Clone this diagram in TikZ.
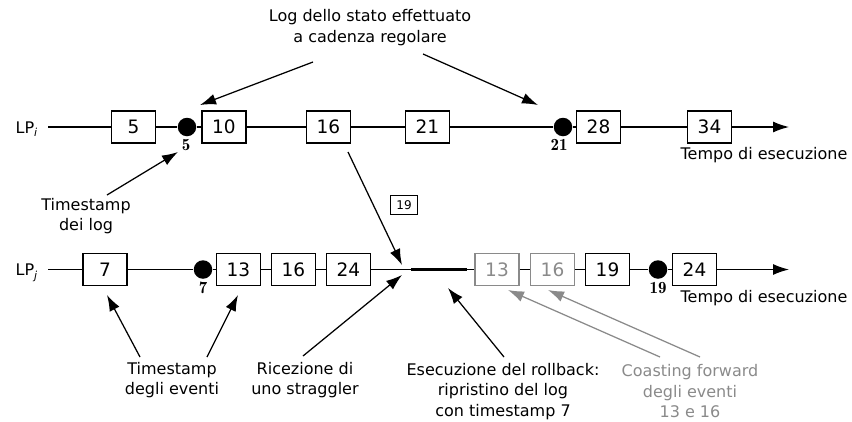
\documentclass[tikz,border=0pt]{standalone}
\usepackage[no-math]{fontspec}
\setmainfont{DejaVu Sans}
\usetikzlibrary{arrows.meta}
\definecolor{faded}{HTML}{8A8A8A}
% process name with an oblique subscript
\newcommand{\procname}[1]{LP\raisebox{-3.5pt}{\fontsize{11}{11}\selectfont\itshape #1}}
\begin{document}
\begin{tikzpicture}[x=1pt,y=-1pt,
  line width=1.25pt,
  evt/.style={draw, minimum width=44pt, minimum height=32pt, inner sep=0pt,
              font=\fontsize{18.5}{20}\selectfont},
  oldevt/.style={evt, draw=faded, text=faded},
  logdot/.style={circle, fill=black, minimum size=18.5pt, inner sep=0pt},
  ts/.style={font=\fontfamily{lmr}\bfseries\fontsize{17}{18}\selectfont, inner sep=0pt},
  note/.style={align=center, font=\fontsize{16}{20.5}\selectfont, inner sep=0pt},
  msg/.style={draw, line width=0.9pt, minimum width=27pt, minimum height=19pt,
              inner sep=0pt, font=\fontsize{12}{13}\selectfont},
  arr/.style={-{Latex[length=16pt,width=11pt]}},
  timeline/.style={-{Latex[length=16pt,width=11pt]}}
]
\useasboundingbox (0,0) rectangle (852,421);

% ---- process LP_i ----
\node[anchor=base west, inner sep=0pt, font=\fontsize{16}{20}\selectfont] (lpi) at (15,133.3) {\procname{i}};
\coordinate (si) at (48,127);
\node[evt] (i5) at (133.5,127) {5};
\node[logdot] (di5) at (187,127) {};
\node[evt] (i10) at (224,127) {10};
\node[evt] (i16) at (328.5,127) {16};
\node[evt] (i21) at (427.5,127) {21};
\node[logdot] (di21) at (563,127) {};
\node[evt] (i28) at (598.5,127) {28};
\node[evt] (i34) at (709.5,127) {34};
\coordinate (ei) at (789,127);
\draw (si) -- (i5) -- (di5) -- (i10) -- (i16) -- (i21) -- (di21) -- (i28) -- (i34);
\draw[timeline] (i34) -- (ei);
\node[ts] (ti5) at (186,145) {5};
\node[ts] (ti21) at (559,145) {21};
\node[note] (tempi) at (764,155) {Tempo di esecuzione};

% ---- process LP_j ----
\node[anchor=base west, inner sep=0pt, font=\fontsize{16}{20}\selectfont] (lpj) at (15,275.5) {\procname{j}};
\coordinate (sj) at (48,269.5);
\node[evt] (j7) at (105,269.5) {7};
\node[logdot] (dj7) at (203,269.5) {};
\node[evt] (j13) at (238.5,269.5) {13};
\node[evt] (j16) at (293.5,269.5) {16};
\node[evt] (j24) at (348.5,269.5) {24};
\coordinate (rb1) at (411,269.5);
\coordinate (rb2) at (467,269.5);
\node[oldevt] (g13) at (497,269.5) {13};
\node[oldevt] (g16) at (552.5,269.5) {16};
\node[evt] (j19) at (607.5,269.5) {19};
\node[logdot] (dj19) at (658,269.5) {};
\node[evt] (j24b) at (694.5,269.5) {24};
\coordinate (ej) at (789,269.5);
\draw (sj) -- (j7) -- (dj7) -- (j13) -- (j16) -- (j24) -- (rb1);
\draw[line width=3pt] (rb1) -- (rb2);
\draw (rb2) -- (g13) -- (g16) -- (j19) -- (dj19) -- (j24b);
\draw[timeline] (j24b) -- (ej);
\node[ts] (tj7) at (203,288) {7};
\node[ts] (tj19) at (658,288) {19};
\node[note] (tempj) at (764,298) {Tempo di esecuzione};

% ---- straggler message ----
\node[msg] (m19) at (404,205) {19};
\coordinate (mfrom) at (348,152);
\coordinate (mto) at (402,265);
\draw[arr] (mfrom) -- (mto);

% ---- annotations ----
\node[note] (nlog) at (370,27.5) {Log dello stato effettuato\\a cadenza regolare};
\coordinate (nlogA) at (313,62);  \coordinate (nlogAt) at (200,105);
\coordinate (nlogB) at (423,54);  \coordinate (nlogBt) at (538,105);
\draw[arr] (nlogA) -- (nlogAt);
\draw[arr] (nlogB) -- (nlogBt);

\node[note] (nts) at (86,216) {Timestamp\\dei log};
\coordinate (ntsA) at (107,195); \coordinate (ntsAt) at (178,152);
\draw[arr] (ntsA) -- (ntsAt);

\node[note] (nev) at (172,380) {Timestamp\\degli eventi};
\coordinate (nevA) at (140,357); \coordinate (nevAt) at (107,295);
\coordinate (nevB) at (207,357); \coordinate (nevBt) at (238,295);
\draw[arr] (nevA) -- (nevAt);
\draw[arr] (nevB) -- (nevBt);

\node[note] (nstr) at (305,380) {Ricezione di\\uno straggler};
\coordinate (nstrA) at (303,356); \coordinate (nstrAt) at (402,275);
\draw[arr] (nstrA) -- (nstrAt);

\node[note] (nrb) at (503,391.5) {Esecuzione del rollback:\\ripristino del log\\con timestamp 7};
\coordinate (nrbA) at (504,357); \coordinate (nrbAt) at (448,288);
\draw[arr] (nrbA) -- (nrbAt);

\node[note, text=faded] (ncf) at (690,391.5) {Coasting forward\\degli eventi\\13 e 16};
\coordinate (ncfA) at (660,357); \coordinate (ncfAt) at (508,290);
\coordinate (ncfB) at (700,357); \coordinate (ncfBt) at (548,290);
\draw[arr, faded] (ncfA) -- (ncfAt);
\draw[arr, faded] (ncfB) -- (ncfBt);
\end{tikzpicture}
\end{document}
